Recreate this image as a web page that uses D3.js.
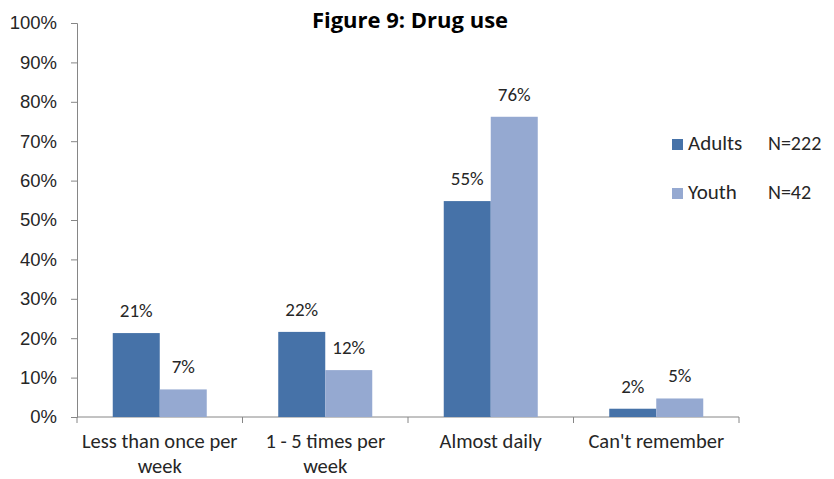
<!DOCTYPE html>
<html>
<head>
<meta charset="utf-8">
<script src="https://cdn.jsdelivr.net/npm/d3@7"></script>
<style>
  html, body { margin: 0; padding: 0; background: #fff; }
  svg { display: block; font-family: Carlito, Lato, "Liberation Sans", sans-serif; }
</style>
</head>
<body>
<svg id="chart" width="834" height="479"></svg>
<script>
// Frequency of drug use, share of respondents (%)
const categories = [["Less than once per", "week"], ["1 - 5 times per", "week"], ["Almost daily"], ["Can't remember"]];
const seriesNames = ["Adults", "Youth"];
const seriesN = ["N=222", "N=42"];
const adults = [21.3, 21.6, 54.8, 2.1];
const youth = [7.0, 11.9, 76.2, 4.7];
const yTicks = [0, 10, 20, 30, 40, 50, 60, 70, 80, 90, 100];
const colors = ["#4672A8", "#95A9D1"];
const titleText = "Figure 9: Drug use";

const svg = d3.select("#chart");
const plotLeft = 77, plotRight = 739, plotTop = 23, plotBottom = 417;

const y = d3.scaleLinear().domain([0, 100]).range([plotBottom, plotTop]);
const catKeys = categories.map((c, i) => i);
const x0 = d3.scaleBand().domain(catKeys).range([plotLeft, plotRight]).padding(0);
const bw = x0.bandwidth();
const barW = 47;
const x1 = d3.scaleBand().domain(seriesNames).range([bw / 2 - barW, bw / 2 + barW]).padding(0);

const axisColor = "#868686";
const textColor = "#262626";

// Title
svg.append("text")
  .attr("x", 410).attr("y", 28)
  .attr("text-anchor", "middle")
  .attr("font-family", "'Open Sans', Lato, sans-serif")
  .attr("font-size", 22).attr("font-weight", "bold")
  .attr("fill", "#000")
  .text(titleText);

// Y axis
const yAxis = svg.append("g")
  .attr("transform", `translate(${plotLeft},0)`)
  .call(d3.axisLeft(y).tickValues(yTicks).tickSize(6).tickPadding(14).tickFormat(d => d + "%"));
yAxis.select(".domain").attr("stroke", axisColor);
yAxis.selectAll(".tick line").attr("stroke", axisColor);
yAxis.selectAll(".tick text").attr("font-size", 18.5).attr("fill", textColor).attr("font-family", null);

// X axis baseline and category separators
svg.append("line")
  .attr("x1", plotLeft).attr("x2", plotRight).attr("y1", plotBottom).attr("y2", plotBottom)
  .attr("stroke", axisColor);
const sepVals = catKeys.map(k => x0(k)).concat([x0(catKeys[catKeys.length - 1]) + bw]);
svg.selectAll("line.sep").data(sepVals).join("line")
  .attr("class", "sep")
  .attr("x1", d => d).attr("x2", d => d)
  .attr("y1", plotBottom).attr("y2", plotBottom + 6)
  .attr("stroke", axisColor);

// Category labels
const catLabels = svg.selectAll("text.cat").data(categories).join("text")
  .attr("class", "cat")
  .attr("text-anchor", "middle")
  .attr("font-size", 20.5).attr("fill", textColor);
catLabels.each(function(lines, i) {
  d3.select(this).selectAll("tspan").data(lines).join("tspan")
    .attr("x", x0(i) + bw / 2)
    .attr("y", (d, j) => 448 + j * 25)
    .text(d => d);
});

// Bars
const series = [adults, youth];
const groups = svg.selectAll("g.series").data(series).join("g")
  .attr("class", "series")
  .attr("fill", (d, i) => colors[i]);
groups.each(function(vals, si) {
  const g = d3.select(this);
  g.selectAll("rect").data(vals).join("rect")
    .attr("x", (d, i) => x0(i) + x1(seriesNames[si]))
    .attr("y", d => y(d))
    .attr("width", x1.bandwidth())
    .attr("height", d => plotBottom - y(d));
  g.selectAll("text").data(vals).join("text")
    .attr("x", (d, i) => x0(i) + x1(seriesNames[si]) + x1.bandwidth() / 2)
    .attr("y", d => y(d) - 16)
    .attr("text-anchor", "middle")
    .attr("font-size", 19).attr("fill", textColor)
    .text(d => Math.round(d) + "%");
});

// Legend
const legend = svg.selectAll("g.legend").data(seriesNames).join("g")
  .attr("class", "legend")
  .attr("transform", (d, i) => `translate(672,${139 + i * 49})`);
legend.append("rect")
  .attr("width", 11).attr("height", 11)
  .attr("fill", (d, i) => colors[i]);
legend.append("text")
  .attr("x", 16).attr("y", 11)
  .attr("font-size", 21).attr("fill", textColor)
  .text(d => d);
legend.append("text")
  .attr("x", 96).attr("y", 11)
  .attr("font-size", 20).attr("fill", textColor)
  .text((d, i) => seriesN[i]);
</script>
</body>
</html>
